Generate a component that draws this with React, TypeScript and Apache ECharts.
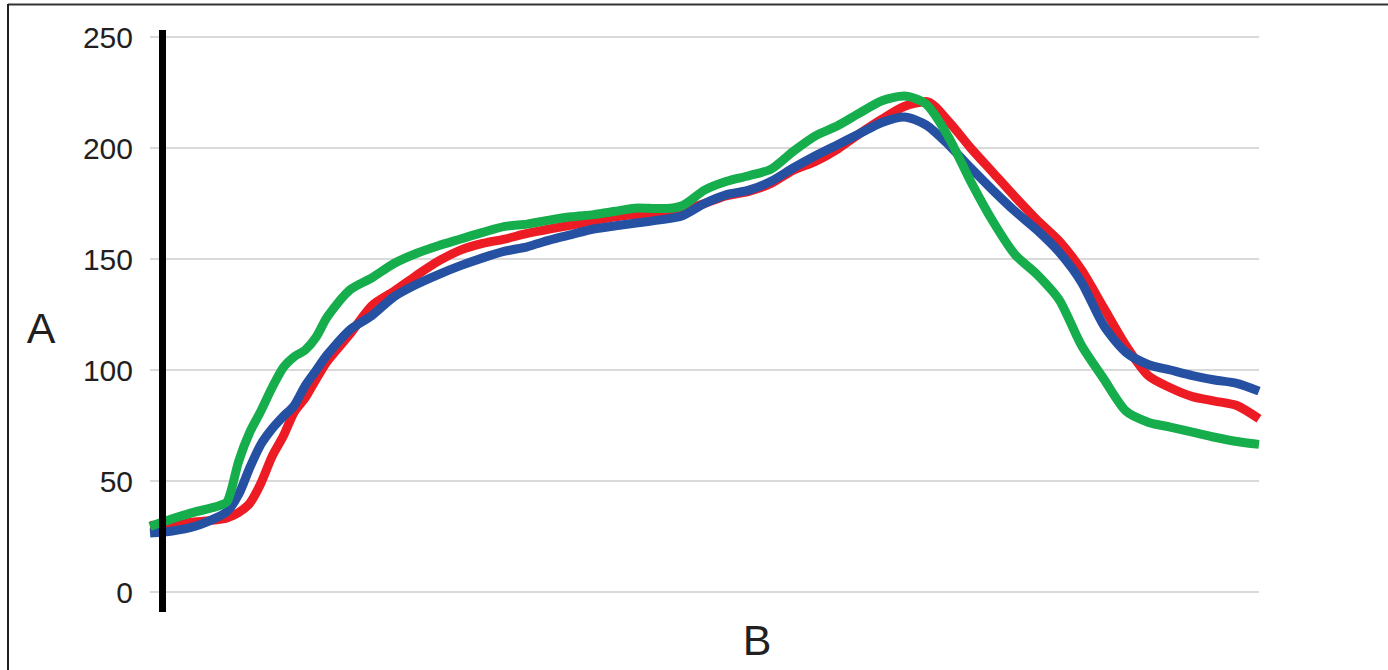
import React, { useEffect, useRef } from "react";
import * as echarts from "echarts";

// x positions along B (0..100)
const xValues = [0, 2, 4, 6, 7, 8, 9, 10, 11, 12, 13, 14, 15, 16, 18, 20, 22, 24, 26, 28, 30, 32, 34, 36, 38, 40, 42, 44, 46, 48, 50, 52, 54, 56, 58, 60, 62, 64, 66, 68, 70, 72, 74, 76, 78, 80, 82, 84, 86, 88, 90, 92, 94, 96, 98, 100];

const redValues = [30, 30.5, 31.5, 32.5, 33.5, 35.8, 40, 49, 61, 70, 81, 87.5, 96, 104, 116, 129, 135.5, 142.5, 149, 154, 157, 159, 161.5, 163.5, 165.3, 167.3, 169, 170, 170, 172, 175, 178.5, 180.5, 184, 190, 194, 199.5, 206.5, 213, 218.7, 221, 212, 200, 189, 178, 167.5, 158, 145, 128, 111, 97.5, 92, 88, 86, 84, 78];

const blueValues = [26.6, 27.5, 29.5, 33.5, 36.5, 44, 56, 66.5, 73.5, 79, 84, 93, 100, 107, 118, 124.5, 133, 138.5, 143, 147, 150.5, 153.5, 155.5, 158.5, 161, 163.5, 165, 166.3, 167.6, 169.5, 175, 179, 181, 185, 191, 196.5, 201.5, 206.5, 211.5, 214, 210.3, 201.5, 191, 181, 171.5, 163, 153, 139.5, 120, 108, 102.5, 100, 97.5, 95.5, 94, 90.5];

const greenValues = [29.5, 33, 36, 38.5, 41, 59, 72, 81.5, 92, 101, 106, 109, 115, 124, 136, 141.5, 148, 152.5, 156, 159, 162, 164.7, 165.7, 167.5, 169, 170, 171.5, 173, 172.7, 174, 181, 185, 187.5, 190.5, 198.5, 205.5, 210, 215.8, 221.3, 223.4, 219.7, 205, 185, 167, 152, 143, 131.5, 111, 96, 81.5, 76.5, 74.3, 72, 69.7, 67.8, 66.5];

const yTicks = [0, 50, 100, 150, 200, 250];

const yTitle = "A";
const xTitle = "B";

const pairs = (vals: number[]) => xValues.map((x, i) => [x, vals[i]]);

export default function App() {
  const ref = useRef<HTMLDivElement>(null);
  useEffect(() => {
    if (!ref.current) return;
    const chart = echarts.init(ref.current, null, { renderer: "svg" });
    const textColor = "#231f20";
    const font = "'Liberation Sans', Arial, Helvetica, sans-serif";
    chart.setOption({
      animation: false,
      backgroundColor: "#ffffff",
      grid: { left: 150, right: 129, top: 37, bottom: 78 },
      xAxis: {
        type: "value",
        min: xValues[0],
        max: xValues[xValues.length - 1],
        show: false,
        splitLine: { show: false },
      },
      yAxis: {
        type: "value",
        min: yTicks[0],
        max: yTicks[yTicks.length - 1],
        interval: yTicks[1] - yTicks[0],
        axisLine: { show: false },
        axisTick: { show: false },
        axisLabel: {
          margin: 17,
          fontSize: 30,
          color: textColor,
          fontFamily: font,
        },
        splitLine: { lineStyle: { color: "#d9d9d9", width: 2 } },
      },
      series: [
        { name: "red", data: pairs(redValues), color: "#ED1C24" },
        { name: "blue", data: pairs(blueValues), color: "#2651A3" },
        { name: "green", data: pairs(greenValues), color: "#16AD4C" },
      ].map((s) => ({
        type: "line",
        name: s.name,
        data: s.data,
        showSymbol: false,
        smooth: 0.25,
        lineStyle: { color: s.color, width: 9 },
        itemStyle: { color: s.color },
      })),
      graphic: [
        {
          type: "line",
          shape: { x1: 8, y1: 4.5, x2: 1388, y2: 4.5 },
          style: { stroke: "#333333", lineWidth: 2 },
        },
        {
          type: "line",
          shape: { x1: 8, y1: 4, x2: 8, y2: 670 },
          style: { stroke: "#231f20", lineWidth: 2 },
        },
        {
          type: "rect",
          shape: { x: 159, y: 30, width: 7, height: 582 },
          style: { fill: "#000000" },
          z: 100,
        },
        {
          type: "text",
          x: 41,
          y: 328,
          style: {
            text: yTitle,
            fontSize: 43,
            fill: textColor,
            fontFamily: font,
            align: "center",
            verticalAlign: "middle",
          },
        },
        {
          type: "text",
          x: 757,
          y: 640,
          style: {
            text: xTitle,
            fontSize: 43,
            fill: textColor,
            fontFamily: font,
            align: "center",
            verticalAlign: "middle",
          },
        },
      ],
    });
    return () => chart.dispose();
  }, []);
  return (
    <div
      ref={ref}
      style={{ position: "absolute", left: 0, top: 0, width: 1388, height: 670 }}
    />
  );
}
